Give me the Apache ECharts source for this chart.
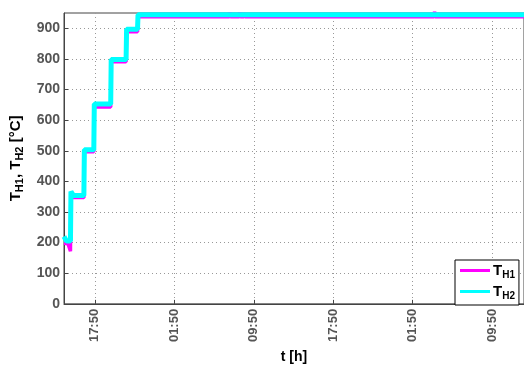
<!DOCTYPE html>
<html>
<head>
<meta charset="utf-8">
<script src="https://cdn.jsdelivr.net/npm/echarts@6/dist/echarts.min.js"></script>
<style>html,body{margin:0;padding:0;background:#fff}#c{width:524px;height:369px}</style>
</head>
<body>
<div id="c"></div>
<script>
// hours relative to the first 17:50 tick
const tickHours = [0, 8, 16, 24, 32, 40];
const tickLabels = ['17:50', '01:50', '09:50', '17:50', '01:50', '09:50'];
const yTicks = [0, 100, 200, 300, 400, 500, 600, 700, 800, 900];

const h1Times  = [-3.1, -2.7, -2.55, -2.45, -2.42, -1.1, -1.05, -0.1, -0.05, 1.6, 1.65, 3.15, 3.2, 4.3, 4.35, 13.55, 13.6, 13.65, 14.55, 14.6, 14.65, 15.0, 15.05, 15.1, 34.15, 34.2, 34.25, 43.2];
const h1Values = [198, 196, 182, 172, 347, 347, 497, 497, 643, 643, 791, 791, 889, 889, 938, 938, 952, 938, 938, 952, 938, 938, 950, 938, 938, 955, 938, 938];

const h2Times  = [-3.1, -2.95, -2.85, -2.45, -2.4, -2.25, -2.15, -1.1, -1.05, -0.1, -0.05, 1.6, 1.65, 3.15, 3.2, 4.3, 4.35, 43.2];
const h2Values = [220, 220, 205, 205, 367, 367, 354, 354, 503, 503, 653, 653, 798, 798, 897, 897, 944, 944];

const font = 'Liberation Sans, Arial, Helvetica, sans-serif';
const pair = (t, v) => t.map((x, i) => [x, v[i]]);

const chart = echarts.init(document.getElementById('c'), null, {renderer: 'canvas'});
chart.setOption({
  animation: false,
  textStyle: {fontFamily: font},
  grid: {left: 64, right: -2, top: 13, bottom: 52, show: true, borderColor: '#444', borderWidth: 1, backgroundColor: 'transparent'},
  legend: {
    left: 455, top: 260, orient: 'vertical',
    padding: [3, 4, 4, 5], itemGap: 4,
    itemWidth: 30, itemHeight: 3, icon: 'rect',
    borderColor: '#000', borderWidth: 1, backgroundColor: '#fff',
    data: ['T_H1', 'T_H2'],
    formatter: n => '{t|T}{s|' + n.split('_')[1] + '}',
    textStyle: {
      padding: [0, 0, 0, -2],
      rich: {
        t: {fontSize: 15, fontWeight: 'bold', color: '#000', fontFamily: font},
        s: {fontSize: 10, fontWeight: 'bold', color: '#000', fontFamily: font, padding: [9, 0, 0, 0]}
      }
    }
  },
  xAxis: {
    type: 'value', min: -3.1, max: 43.2,
    name: 't [h]', nameLocation: 'middle', nameGap: 40,
    nameTextStyle: {fontSize: 14, fontWeight: 'bold', color: '#000', fontFamily: font},
    axisLine: {show: true, onZero: false, lineStyle: {color: '#444'}},
    axisTick: {show: true, inside: true, length: 4, customValues: tickHours, lineStyle: {color: '#444'}},
    axisLabel: {
      customValues: tickHours, rotate: 90, margin: 5,
      fontSize: 13, fontWeight: 'bold', color: '#555', fontFamily: font,
      formatter: v => tickLabels[tickHours.indexOf(v)] || ''
    },
    splitLine: {show: true, lineStyle: {color: '#999', type: [1, 3], width: 1}}
  },
  yAxis: {
    type: 'value', min: 0, max: 950,
    name: '{t|T}{s|H1}{t|, T}{s|H2}{t| [°C]}', nameLocation: 'middle', nameRotate: 90, nameGap: 33,
    nameTextStyle: {
      rich: {
        t: {fontSize: 15, fontWeight: 'bold', color: '#000', fontFamily: font},
        s: {fontSize: 11, fontWeight: 'bold', color: '#000', fontFamily: font, padding: [9, 0, 0, 0]}
      }
    },
    axisLine: {show: true, onZero: false, lineStyle: {color: '#444'}},
    axisTick: {show: true, inside: true, length: 4, customValues: yTicks, lineStyle: {color: '#444'}},
    axisLabel: {customValues: yTicks, margin: 4, fontSize: 14, fontWeight: 'bold', color: '#555', fontFamily: font},
    splitLine: {show: true, lineStyle: {color: '#999', type: [1, 3], width: 1}}
  },
  series: [
    {name: 'T_H1', type: 'line', data: pair(h1Times, h1Values), showSymbol: false, symbol: 'none',
     color: '#ff00ff', lineStyle: {width: 3.5, color: '#ff00ff'}, z: 2, clip: true},
    {name: 'T_H2', type: 'line', data: pair(h2Times, h2Values), showSymbol: false, symbol: 'none',
     color: '#00ffff', lineStyle: {width: 5, color: '#00ffff'}, z: 3, clip: true}
  ]
});
</script>
</body>
</html>
